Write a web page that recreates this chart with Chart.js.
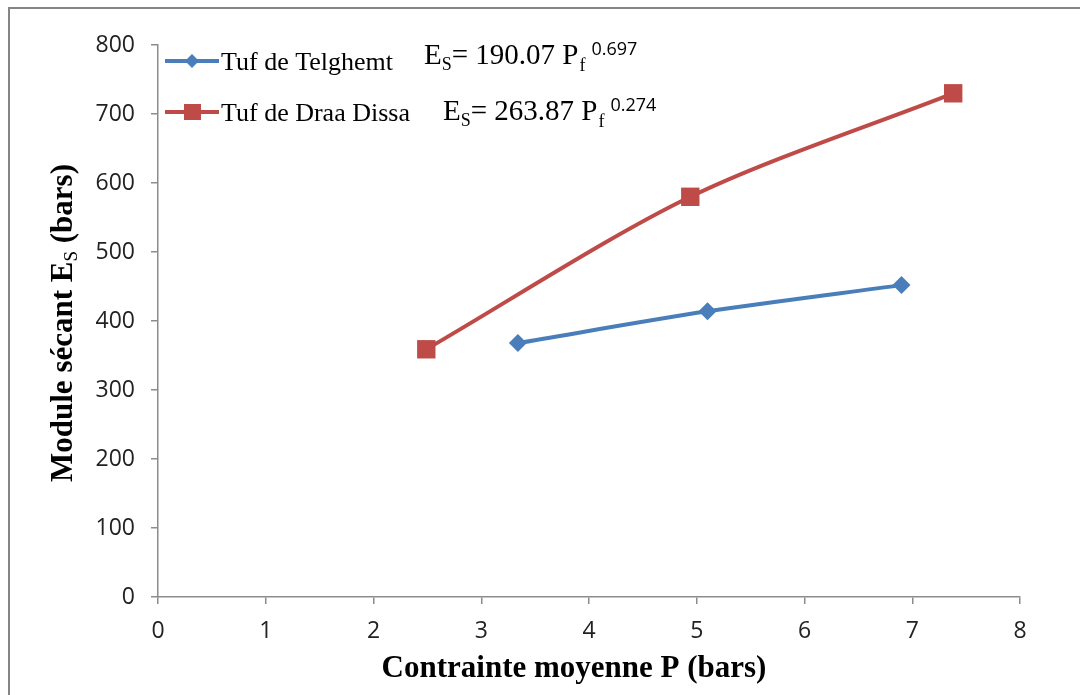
<!DOCTYPE html>
<html>
<head>
<meta charset="utf-8">
<script src="https://cdn.jsdelivr.net/npm/chart.js@4.4.0/dist/chart.umd.min.js"></script>
<style>
  html, body { margin: 0; padding: 0; background: #fff; overflow: hidden; }
  #wrap { position: relative; width: 1080px; height: 695px; }
  #frame { position: absolute; left: 8px; top: 7px; width: 1200px; height: 800px;
           border-top: 2px solid #858585; border-left: 2px solid #858585; }
  canvas { position: absolute; left: 0; top: 0; }
</style>
</head>
<body>
<div id="wrap">
  <div id="frame"></div>
  <canvas id="chart" width="1080" height="695"></canvas>
</div>
<script>
// values
const seriesNames = ['Tuf de Telghemt', 'Tuf de Draa Dissa'];
const telghemtP = [3.34, 5.10, 6.90];
const telghemtE = [368, 414, 452];
const draaDissaP = [2.49, 4.94, 7.38];
const draaDissaE = [359, 580, 730];
const xTicks = [0, 1, 2, 3, 4, 5, 6, 7, 8];
const yTicks = [0, 100, 200, 300, 400, 500, 600, 700, 800];
const equations = [
  { coef: '190.07', exp: '0.697' },
  { coef: '263.87', exp: '0.274' }
];

const blue = '#4a7ebb';
const red = '#be4b48';
const axisGrey = '#8c8c8c';
const serif = '"Liberation Serif", "Times New Roman", serif';
const sans = '"Open Sans", "Liberation Sans", sans-serif';

function toPoints(xs, ys) {
  return xs.map((x, i) => ({ x: x, y: ys[i] }));
}

// legend, equations and axis titles with sub/superscripts
const overlay = {
  id: 'overlay',
  afterDraw(chart) {
    const ctx = chart.ctx;
    ctx.save();

    // legend
    const rows = [
      { y: 61, color: blue, style: 'diamond', eqX: 424, base: 64 },
      { y: 112, color: red, style: 'square', eqX: 443, base: 120 }
    ];
    rows.forEach((r, i) => {
      ctx.strokeStyle = r.color;
      ctx.lineWidth = 4;
      ctx.beginPath();
      ctx.moveTo(165, r.y);
      ctx.lineTo(219, r.y);
      ctx.stroke();
      ctx.fillStyle = r.color;
      ctx.beginPath();
      if (r.style === 'diamond') {
        ctx.moveTo(192, r.y - 7); ctx.lineTo(199, r.y);
        ctx.lineTo(192, r.y + 7); ctx.lineTo(185, r.y);
        ctx.closePath();
      } else {
        ctx.rect(184, r.y - 8, 17, 16);
      }
      ctx.fill();

      ctx.fillStyle = '#000';
      ctx.textAlign = 'left';
      ctx.textBaseline = 'alphabetic';
      ctx.font = '26px ' + serif;
      ctx.fillText(seriesNames[i], 221, r.y + 9);

      // equation  E_S= coef P_f^exp
      let x = r.eqX;
      const b = r.base;
      ctx.font = '29px ' + serif;
      ctx.fillText('E', x, b); x += ctx.measureText('E').width;
      ctx.font = '18px ' + serif;
      ctx.fillText('S', x, b + 6); x += ctx.measureText('S').width;
      ctx.font = '29px ' + serif;
      const mid = '= ' + equations[i].coef + ' P';
      ctx.fillText(mid, x, b); x += ctx.measureText(mid).width;
      ctx.font = '18px ' + serif;
      ctx.fillText('f', x + 1, b + 7); x += ctx.measureText('f').width + 7;
      ctx.font = '18px ' + sans;
      ctx.fillText(equations[i].exp, x, b - 9);
    });

    // x axis title
    ctx.font = 'bold 31px ' + serif;
    ctx.textAlign = 'center';
    ctx.fillText('Contrainte moyenne P (bars)', 574, 677);

    // y axis title, rotated
    ctx.translate(72, 323);
    ctx.rotate(-Math.PI / 2);
    const p1 = 'Module sécant E', p3 = ' (bars)';
    ctx.font = 'bold 31px ' + serif;
    const w1 = ctx.measureText(p1).width, w3 = ctx.measureText(p3).width;
    ctx.font = '19px ' + serif;
    const w2 = ctx.measureText('S').width;
    let tx = -(w1 + w2 + w3) / 2;
    ctx.textAlign = 'left';
    ctx.font = 'bold 31px ' + serif;
    ctx.fillText(p1, tx, 0); tx += w1;
    ctx.font = '19px ' + serif;
    ctx.fillText('S', tx, 5); tx += w2;
    ctx.font = 'bold 31px ' + serif;
    ctx.fillText(p3, tx, 0);

    ctx.restore();
  }
};

const ctx = document.getElementById('chart').getContext('2d');
new Chart(ctx, {
  type: 'line',
  data: {
    datasets: [
      {
        label: seriesNames[0],
        data: toPoints(telghemtP, telghemtE),
        borderColor: blue,
        backgroundColor: blue,
        borderWidth: 4,
        pointStyle: 'rectRot',
        pointRadius: 9,
        pointHoverRadius: 9,
        pointBorderWidth: 0,
        tension: 0.3,
        fill: false
      },
      {
        label: seriesNames[1],
        data: toPoints(draaDissaP, draaDissaE),
        borderColor: red,
        backgroundColor: red,
        borderWidth: 4,
        pointStyle: 'rect',
        pointRadius: 13,
        pointHoverRadius: 13,
        pointBorderWidth: 0,
        tension: 0.3,
        fill: false
      }
    ]
  },
  options: {
    responsive: false,
    animation: false,
    layout: { padding: { left: 0, top: 45, right: 60, bottom: 0 } },
    plugins: {
      legend: { display: false },
      tooltip: { enabled: false }
    },
    scales: {
      x: {
        type: 'linear',
        min: 0,
        max: 8,
        afterFit(scale) { scale.height = 98; },
        afterBuildTicks(scale) { scale.ticks = xTicks.map(v => ({ value: v })); },
        border: { color: axisGrey, width: 1.5 },
        grid: { drawOnChartArea: false, color: axisGrey, tickLength: 7, lineWidth: 1.5 },
        ticks: { color: '#222', font: { family: sans, size: 23 }, padding: 14 }
      },
      y: {
        min: 0,
        max: 800,
        afterFit(scale) { scale.width = 158; },
        afterBuildTicks(scale) { scale.ticks = yTicks.map(v => ({ value: v })); },
        border: { color: axisGrey, width: 1.5 },
        grid: { drawOnChartArea: false, color: axisGrey, tickLength: 7, lineWidth: 1.5 },
        ticks: { color: '#222', font: { family: sans, size: 23 }, padding: 16 }
      }
    }
  },
  plugins: [overlay]
});
</script>
</body>
</html>
